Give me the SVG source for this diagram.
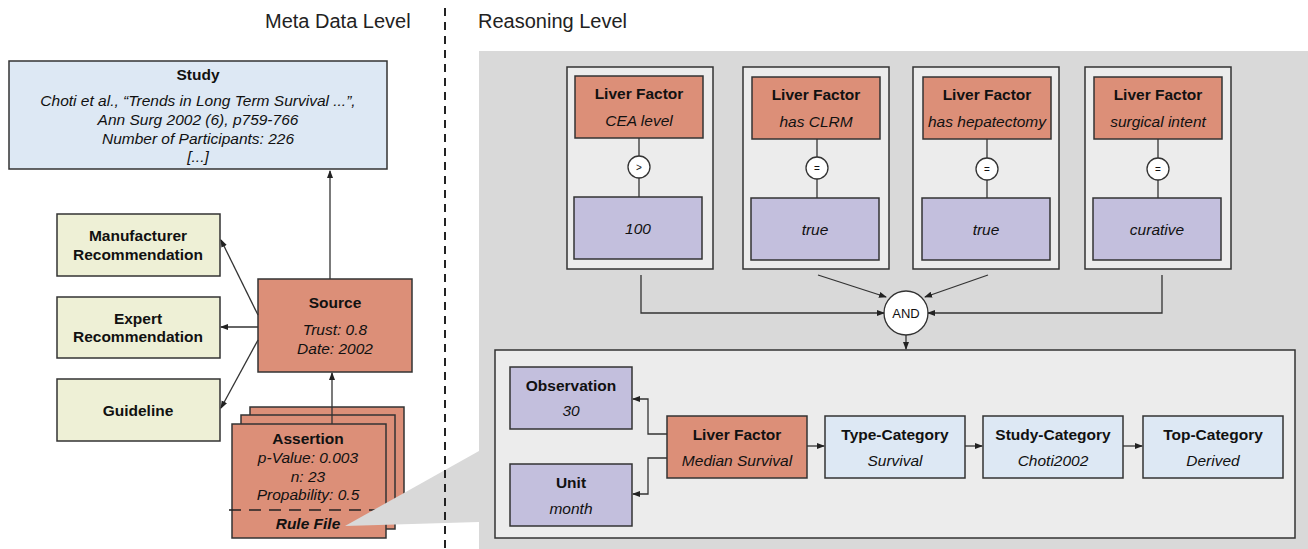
<svg xmlns="http://www.w3.org/2000/svg" width="1308" height="549" viewBox="0 0 1308 549">
<defs>
<marker id="ah" markerWidth="8" markerHeight="8" refX="7" refY="4" orient="auto" markerUnits="userSpaceOnUse">
<path d="M0,1 L8,4 L0,7 z" fill="#222"/>
</marker>
<style>
text{font-family:"Liberation Sans",Arial,sans-serif;font-size:15.5px;fill:#111;text-anchor:middle}
.b{font-weight:bold}
.i{font-style:italic}
.h{font-size:20px;text-anchor:start;fill:#222}
.box{stroke:#333;stroke-width:1.5}
.org{fill:#dc8f78}
.blu{fill:#dde8f4}
.yel{fill:#eef0d6}
.pur{fill:#c3bfdd}
.pan{fill:#ececec;stroke:#333;stroke-width:1.5}
.ln{fill:none;stroke:#333;stroke-width:1.3}
.op{fill:#fff;stroke:#333;stroke-width:1.3}
</style>
</defs>
<rect width="1308" height="549" fill="#fff"/>
<text class="h" x="265" y="28">Meta Data Level</text>
<text class="h" x="478" y="28">Reasoning Level</text>
<rect x="479" y="51" width="829" height="498" fill="#d9d9d9"/>

<g id="study"><rect class="box blu" x="9" y="61" width="378" height="108"/>
<text class="b" x="198" y="80">Study</text>
<text class="i" x="198" y="106">Choti et al., “Trends in Long Term Survival ...”,</text>
<text class="i" x="198" y="125">Ann Surg 2002 (6), p759-766</text>
<text class="i" x="198" y="144">Number of Participants: 226</text>
<text class="i" x="198" y="162">[...]</text></g>

<g id="manufacturer"><rect class="box yel" x="57" y="214" width="163" height="62"/>
<text class="b" x="138" y="241">Manufacturer</text><text class="b" x="138" y="260">Recommendation</text></g>
<g id="expert"><rect class="box yel" x="57" y="297" width="163" height="61"/>
<text class="b" x="138" y="324">Expert</text><text class="b" x="138" y="342">Recommendation</text></g>
<g id="guideline"><rect class="box yel" x="57" y="379" width="163" height="62"/>
<text class="b" x="138" y="416">Guideline</text></g>

<g id="source"><rect class="box org" x="258" y="279" width="154" height="93"/>
<text class="b" x="335" y="308">Source</text>
<text class="i" x="335" y="335">Trust: 0.8</text>
<text class="i" x="335" y="354">Date: 2002</text></g>

<g id="assertion">
<rect class="box org" x="250" y="407" width="154" height="113"/>
<rect class="box org" x="241" y="415" width="154" height="114"/>
<rect class="box org" x="232" y="424" width="154" height="114"/>
<text class="b" x="308" y="444">Assertion</text>
<text class="i" x="308" y="463">p-Value: 0.003</text>
<text class="i" x="308" y="482">n: 23</text>
<text class="i" x="308" y="500">Propability: 0.5</text>
<line x1="229" y1="510" x2="384" y2="510" stroke="#222" stroke-width="1.3" stroke-dasharray="12,8"/>
<text class="b i" x="308" y="529">Rule File</text>
</g>

<polygon points="345,526 479,451 479,522" fill="#d9d9d9"/>
<line x1="445" y1="8" x2="445" y2="549" stroke="#222" stroke-width="2" stroke-dasharray="8,6"/>

<g id="cond1"><rect class="pan" x="567" y="67" width="146" height="202"/>
<rect class="box org" x="575" y="76" width="128" height="62"/>
<text class="b" x="639" y="99">Liver Factor</text><text class="i" x="639" y="126">CEA level</text>
<line class="ln" x1="639" y1="138" x2="639" y2="197"/>
<circle class="op" cx="639" cy="167" r="11"/><text x="639" y="171" style="font-size:10px">&gt;</text>
<rect class="box pur" x="574" y="197" width="128" height="62"/>
<text class="i" x="638" y="234">100</text></g>

<g id="cond2"><rect class="pan" x="743" y="67" width="146" height="202"/>
<rect class="box org" x="752" y="77" width="128" height="62"/>
<text class="b" x="816" y="100">Liver Factor</text><text class="i" x="816" y="127">has CLRM</text>
<line class="ln" x1="817" y1="139" x2="817" y2="198"/>
<circle class="op" cx="817" cy="168" r="11"/><text x="817" y="172" style="font-size:10px">=</text>
<rect class="box pur" x="751" y="198" width="128" height="62"/>
<text class="i" x="815" y="235">true</text></g>

<g id="cond3"><rect class="pan" x="913" y="67" width="146" height="202"/>
<rect class="box org" x="923" y="77" width="128" height="62"/>
<text class="b" x="987" y="100">Liver Factor</text><text class="i" x="987" y="127">has hepatectomy</text>
<line class="ln" x1="987" y1="139" x2="987" y2="198"/>
<circle class="op" cx="987" cy="169" r="11"/><text x="987" y="173" style="font-size:10px">=</text>
<rect class="box pur" x="922" y="198" width="128" height="62"/>
<text class="i" x="986" y="235">true</text></g>

<g id="cond4"><rect class="pan" x="1085" y="67" width="146" height="202"/>
<rect class="box org" x="1094" y="77" width="128" height="62"/>
<text class="b" x="1158" y="100">Liver Factor</text><text class="i" x="1158" y="127">surgical intent</text>
<line class="ln" x1="1158" y1="139" x2="1158" y2="198"/>
<circle class="op" cx="1158" cy="169" r="11"/><text x="1158" y="173" style="font-size:10px">=</text>
<rect class="box pur" x="1093" y="198" width="128" height="62"/>
<text class="i" x="1157" y="235">curative</text></g>

<g id="and"><circle class="op" cx="906" cy="313" r="22"/><text x="906" y="318" style="font-size:13px">AND</text></g>

<g id="conclusion"><rect class="pan" x="495" y="350" width="800" height="188"/></g>
<g id="observation"><rect class="box pur" x="510" y="367" width="122" height="62"/>
<text class="b" x="571" y="391">Observation</text><text class="i" x="571" y="416">30</text></g>
<g id="unit"><rect class="box pur" x="510" y="464" width="122" height="62"/>
<text class="b" x="571" y="488">Unit</text><text class="i" x="571" y="514">month</text></g>
<g id="liverfactor"><rect class="box org" x="667" y="416" width="140" height="62"/>
<text class="b" x="737" y="440">Liver Factor</text><text class="i" x="737" y="466">Median Survival</text></g>
<g id="type"><rect class="box blu" x="825" y="416" width="140" height="62"/>
<text class="b" x="895" y="440">Type-Category</text><text class="i" x="895" y="466">Survival</text></g>
<g id="studycat"><rect class="box blu" x="983" y="416" width="140" height="62"/>
<text class="b" x="1053" y="440">Study-Category</text><text class="i" x="1053" y="466">Choti2002</text></g>
<g id="top"><rect class="box blu" x="1143" y="416" width="140" height="62"/>
<text class="b" x="1213" y="440">Top-Category</text><text class="i" x="1213" y="466">Derived</text></g>

<g id="connectors" class="ln" marker-end="url(#ah)">
<path d="M330,279 V171"/>
<path d="M332,424 V373"/>
<path d="M258,315 L221,240"/>
<path d="M258,327 H221"/>
<path d="M258,340 L221,408"/>
<path d="M641,275 V313 H884"/>
<path d="M818,275 L886,297"/>
<path d="M988,275 L925,297"/>
<path d="M1162,275 V313 H928"/>
<path d="M906,335 V349"/>
<path d="M667,434 H648 V399 H633"/>
<path d="M667,458 H648 V494 H633"/>
<path d="M807,446 H824"/>
<path d="M965,446 H982"/>
<path d="M1123,446 H1142"/>
</g>
</svg>
